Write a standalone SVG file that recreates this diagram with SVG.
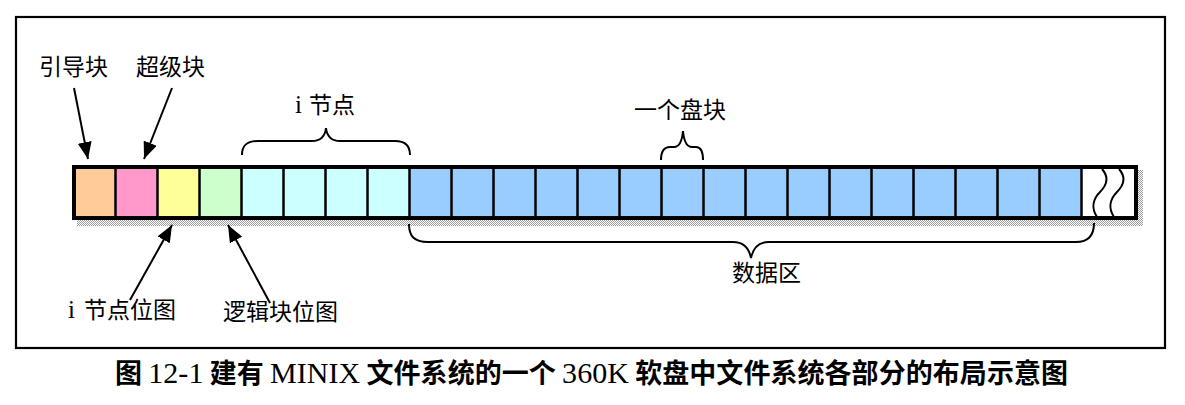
<svg xmlns="http://www.w3.org/2000/svg" width="1185" height="405" viewBox="0 0 1185 405">
  <style>
    .lbl { font-family: "Noto Sans CJK SC", sans-serif; font-size: 23px; fill: #000; }
    .lat { font-family: "Liberation Serif", serif; font-size: 25px; }
    .cap { font-family: "Noto Sans CJK SC", sans-serif; font-size: 27px; font-weight: bold; fill: #000; }
    .capl { font-family: "Liberation Serif", serif; font-weight: normal; font-size: 30px; }
    .ln { stroke: #000; stroke-width: 2; fill: none; }
    .div { stroke: #000; stroke-width: 2.5; }
  </style>
  <defs>
    <pattern id="dots" width="2" height="2" patternUnits="userSpaceOnUse">
      <rect width="2" height="2" fill="#ffffff"/>
      <rect width="1" height="1" fill="#999999"/>
      <rect x="1" y="1" width="1" height="1" fill="#999999"/>
    </pattern>
    <marker id="ah" markerUnits="userSpaceOnUse" markerWidth="17" markerHeight="14" refX="17" refY="7" orient="auto">
      <path d="M0,0 L17,7 L0,14 z" fill="#000"/>
    </marker>
  </defs>

  <rect width="1185" height="405" fill="#fff"/>
  <rect id="frame" x="16" y="17" width="1149" height="331" fill="none" stroke="#000" stroke-width="2.2"/>

  <g id="bar">
    <rect x="77" y="170" width="1066" height="56" fill="url(#dots)"/>
    <rect x="74" y="167" width="41.5" height="51" fill="#FFCC99"/>
    <rect x="115.5" y="167" width="42" height="51" fill="#FF99CC"/>
    <rect x="157.5" y="167" width="42" height="51" fill="#FFFF99"/>
    <rect x="199.5" y="167" width="42" height="51" fill="#CCFFCC"/>
    <rect x="241.5" y="167" width="168" height="51" fill="#CCFFFF"/>
    <rect x="409.5" y="167" width="672" height="51" fill="#99CCFF"/>
    <rect x="1081.5" y="167" width="54.5" height="51" fill="#FFFFFF"/>
    <g class="div">
      <line x1="115.5" y1="167" x2="115.5" y2="218"/>
      <line x1="157.5" y1="167" x2="157.5" y2="218"/>
      <line x1="199.5" y1="167" x2="199.5" y2="218"/>
      <line x1="241.5" y1="167" x2="241.5" y2="218"/>
      <line x1="283.5" y1="167" x2="283.5" y2="218"/>
      <line x1="325.5" y1="167" x2="325.5" y2="218"/>
      <line x1="367.5" y1="167" x2="367.5" y2="218"/>
      <line x1="409.5" y1="167" x2="409.5" y2="218"/>
      <line x1="451.5" y1="167" x2="451.5" y2="218"/>
      <line x1="493.5" y1="167" x2="493.5" y2="218"/>
      <line x1="535.5" y1="167" x2="535.5" y2="218"/>
      <line x1="577.5" y1="167" x2="577.5" y2="218"/>
      <line x1="619.5" y1="167" x2="619.5" y2="218"/>
      <line x1="661.5" y1="167" x2="661.5" y2="218"/>
      <line x1="703.5" y1="167" x2="703.5" y2="218"/>
      <line x1="745.5" y1="167" x2="745.5" y2="218"/>
      <line x1="787.5" y1="167" x2="787.5" y2="218"/>
      <line x1="829.5" y1="167" x2="829.5" y2="218"/>
      <line x1="871.5" y1="167" x2="871.5" y2="218"/>
      <line x1="913.5" y1="167" x2="913.5" y2="218"/>
      <line x1="955.5" y1="167" x2="955.5" y2="218"/>
      <line x1="997.5" y1="167" x2="997.5" y2="218"/>
      <line x1="1039.5" y1="167" x2="1039.5" y2="218"/>
      <line x1="1081.5" y1="167" x2="1081.5" y2="218"/>
    </g>
    <path class="ln" d="M1102,169 C1110,178 1106,186 1100,192 C1093,199 1091,208 1097,217"/>
    <path class="ln" d="M1119,169 C1127,178 1123,186 1117,192 C1110,199 1108,208 1114,217"/>
    <rect x="74" y="167" width="1062" height="51" fill="none" stroke="#000" stroke-width="4"/>
  </g>

  <g id="connectors">
    <line class="ln" x1="74" y1="88" x2="88" y2="159" marker-end="url(#ah)"/>
    <line class="ln" x1="172" y1="88" x2="144" y2="159" marker-end="url(#ah)"/>
    <line class="ln" x1="130" y1="300" x2="172" y2="225" marker-end="url(#ah)"/>
    <line class="ln" x1="270" y1="303" x2="228" y2="225" marker-end="url(#ah)"/>
    <path class="ln" d="M242,155 C242,146 246,141 258,141 L312,141 C320,141 325,137 326,128 C327,137 332,141 340,141 L395,141 C406,141 410,146 410,155"/>
    <path class="ln" d="M661,160 C661,151 664,147 670,147 L674,147 C679,147 682,142 683,131 C684,142 687,147 692,147 L696,147 C701,147 703,151 703,160"/>
    <path class="ln" d="M409,224 C409,236 414,242 428,242 L733,242 C743,242 749,248 751,258 C753,248 759,242 769,242 L1076,242 C1090,242 1094,234 1094,223"/>
  </g>

  <g id="boot"><text class="lbl" x="39" y="75">引导块</text></g>
  <g id="super"><text class="lbl" x="136" y="75">超级块</text></g>
  <g id="inodes"><text class="lbl" x="295" y="113"><tspan class="lat">i</tspan><tspan x="309">节点</tspan></text></g>
  <g id="block"><text class="lbl" x="634" y="118">一个盘块</text></g>
  <g id="imap"><text class="lbl" x="68" y="318"><tspan class="lat">i</tspan><tspan x="84">节点位图</tspan></text></g>
  <g id="zmap"><text class="lbl" x="223" y="320">逻辑块位图</text></g>
  <g id="data"><text class="lbl" x="732" y="281">数据区</text></g>

  <g id="caption">
    <text class="cap" x="115" y="383" textLength="953" lengthAdjust="spacing">图 <tspan class="capl">12-1</tspan> 建有 <tspan class="capl">MINIX</tspan> 文件系统的一个 <tspan class="capl">360K</tspan> 软盘中文件系统各部分的布局示意图</text>
  </g>
</svg>
